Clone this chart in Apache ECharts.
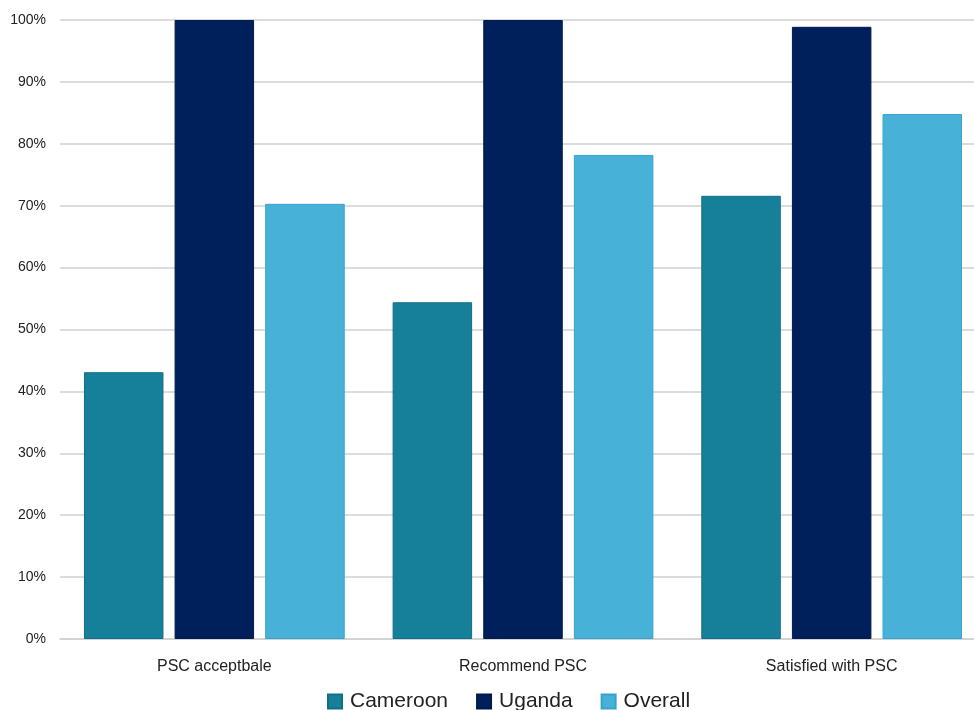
<!DOCTYPE html>
<html><head><meta charset="utf-8">
<script src="https://cdn.jsdelivr.net/npm/echarts@6/dist/echarts.min.js"></script>
<style>html,body{margin:0;padding:0;background:#fff;overflow:hidden;width:974px;height:710px}#c{width:986px;height:710px}</style>
</head><body><div id="c"></div>
<script>
const categories = ['PSC acceptbale', 'Recommend PSC', 'Satisfied with PSC'];
const cameroon = [43.1, 54.4, 71.6];
const uganda = [100, 100, 98.9];
const overall = [70.3, 78.2, 84.8];
const yTicks = [0, 10, 20, 30, 40, 50, 60, 70, 80, 90, 100];

const chart = echarts.init(document.getElementById('c'));
const font = '"Liberation Sans", "DejaVu Sans", sans-serif';
function bar(name, data, color, border) {
  return { name, type: 'bar', data, barWidth: 79.5, barGap: '14%',
    itemStyle: { color, borderColor: border, borderWidth: 1 } };
}
chart.setOption({
  animation: false,
  textStyle: { fontFamily: font },
  grid: { left: 60, top: 20, right: 0, bottom: 71, containLabel: false },
  xAxis: { type: 'category', data: categories,
    axisLine: { lineStyle: { color: '#d0d0d0', width: 1.5 } }, axisTick: { show: false },
    axisLabel: { color: '#222', fontSize: 16, margin: 20, fontFamily: font } },
  yAxis: { type: 'value', min: yTicks[0], max: yTicks[yTicks.length - 1], interval: 10,
    axisLabel: { formatter: '{value}%', color: '#222', fontSize: 14, margin: 14, fontFamily: font },
    axisLine: { show: false }, axisTick: { show: false },
    splitLine: { lineStyle: { color: '#d0d0d0', width: 1.5 } } },
  legend: { top: 686, left: 322, itemWidth: 14, itemHeight: 14, itemGap: 28,
    icon: 'rect', textStyle: { fontSize: 21, color: '#222', fontFamily: font, padding: [0, 0, 0, 3] },
    data: ['Cameroon', 'Uganda', 'Overall'] },
  series: [
    bar('Cameroon', cameroon, '#16809A', '#0f6f86'),
    bar('Uganda', uganda, '#00205B', '#001a4a'),
    bar('Overall', overall, '#48B1D8', '#35a3cf')
  ]
});
</script></body></html>
